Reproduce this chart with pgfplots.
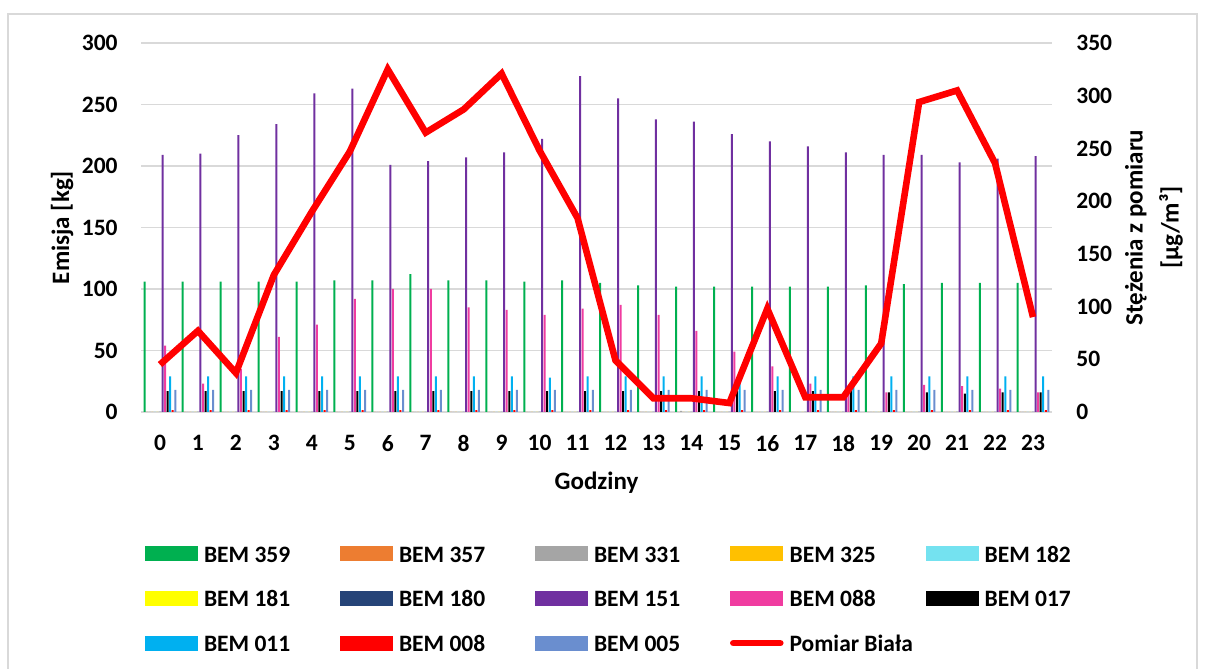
\documentclass[border=0pt]{standalone}
\usepackage{pgfplots}
\pgfplotsset{compat=1.18}
\usepackage{pgfplotstable}
\usepackage{fontspec}
\setmainfont{Carlito}

\definecolor{gridgray}{RGB}{217,217,217}
\definecolor{c359}{RGB}{0,176,80}
\definecolor{c357}{RGB}{237,125,49}
\definecolor{c331}{RGB}{165,165,165}
\definecolor{c325}{RGB}{255,192,0}
\definecolor{c182}{RGB}{116,226,240}
\definecolor{c181}{RGB}{255,255,0}
\definecolor{c180}{RGB}{38,68,120}
\definecolor{c151}{RGB}{112,48,160}
\definecolor{c088}{RGB}{240,60,160}
\definecolor{c017}{RGB}{0,0,0}
\definecolor{c011}{RGB}{0,176,240}
\definecolor{c008}{RGB}{255,0,0}
\definecolor{c005}{RGB}{106,142,207}

\pgfplotstableread{
h  b359 b357 b331 b325 b182 b181 b180 b151 b088 b017 b011 b008 b005 pm
0  106  0    0    0    0    0    0    209  54   17   29   1.5  18   45
1  106  0    0    0    0    0    0    210  23   17   29   1.5  18   77
2  106  0    0    0    0    0    0    225  35   17   29   1.5  18   37
3  106  0    0    0    0    0    0    234  61   17   29   1.5  18   130
4  106  0    0    0    0    0    0    259  71   17   29   1.5  18   190
5  107  0    0    0    0    0    0    263  92   17   29   1.5  18   247
6  107  0    0    0    0    0    0    201  100  17   29   1.5  18   325
7  112  0    0    0    0    0    0    204  100  17   29   1.5  18   265
8  107  0    0    0    0    0    0    207  85   17   29   1.5  18   287
9  107  0    0    0    0    0    0    211  83   17   29   1.5  18   321
10 106  0    0    0    0    0    0    222  79   17   28   1.5  18   248
11 107  0    0    0    0    0    0    273  84   17   29   1.5  18   184
12 105  0    0    0    0    0    0    255  87   17   29   1.5  18   49
13 103  0    0    0    0    0    0    238  79   17   29   1.5  18   13
14 102  0    1    0    0    0    0    236  66   17   29   1.5  18   13
15 102  0    0    0    0    0    0    226  49   17   29   1.5  18   8.5
16 102  0    0    0    0    0    0    220  37   17   29   1.5  18   98
17 102  0    0    0    0    0    0    216  23   17   29   1.5  18   14
18 102  0    0    0    0    0    0    211  18   17   29   1.5  18   14
19 103  0    0    0    0    0    0    209  16   16   29   1.5  18   65
20 104  0    0    0    0    0    0    209  22   16   29   1.5  18   294
21 105  0    0    0    0    0    0    203  21   15   29   1.5  18   305
22 105  0    0    0    0    0    0    206  19   16   29   1.5  18   236
23 105  0    0    0    0    0    0    208  16   16   29   1.5  18   90
}\data

\newcommand{\lt}[1]{\makebox[68pt][l]{\rule[-4pt]{0pt}{12pt}#1}}

\pgfplotsset{
  barlegend/.style={legend image code/.code={\fill[##1] (0pt,-2.7pt) rectangle (26.5pt,4.8pt);}},
  linelegend/.style={legend image code/.code={\draw[##1, line cap=round] (1.5pt,1pt) -- (25pt,1pt);}},
}

\begin{document}
\begin{tikzpicture}
\useasboundingbox (0,0) rectangle (602.5pt,334.5pt);
\draw[gridgray, line width=0.8pt] (4pt,-3pt) rectangle (598.5pt,327.5pt);

\begin{axis}[
  scale only axis, width=455.5pt, height=184.5pt,
  at={(70.5pt,128.5pt)}, anchor=south west,
  xmin=-0.5, xmax=23.5, ymin=0, ymax=300,
  enlargelimits=false,
  ybar=0.275pt, bar width=1pt,
  xtick={0,...,23}, ytick={0,50,...,300},
  major tick length=0pt,
  axis line style={draw=none},
  ymajorgrids, grid style={draw=gridgray, line width=0.8pt},
  /pgf/number format/assume math mode=true,
  tick label style={font=\fontsize{11.75}{14}\selectfont\bfseries, inner sep=0pt},
  yticklabel shift=11.5pt,
  xticklabel shift=11.5pt,
  xlabel={Godziny},
  ylabel={Emisja [kg]},
  label style={font=\fontsize{12.5}{15}\selectfont\bfseries},
  xlabel style={at={(axis description cs:0.5,-0.1924)}, anchor=center},
  ylabel style={at={(axis description cs:-0.0867,0.5)}, anchor=center},
  legend style={at={(axis description cs:0.0044,-0.363)}, anchor=north west,
    draw=none, fill=none, inner sep=0pt, outer sep=0pt,
    font=\fontsize{11.75}{14}\selectfont\bfseries,
    legend columns=5, row sep=12.75pt,
    nodes={inner sep=0pt},
    /tikz/every odd column/.append style={column sep=3pt},
    /tikz/every even column/.append style={column sep=0pt}},
  legend cell align=left,
]
\addplot[fill=c359, draw=none, barlegend] table[x=h,y=b359] {\data}; \addlegendentry{\lt{BEM 359}}
\addplot[fill=c357, draw=none, barlegend] table[x=h,y=b357] {\data}; \addlegendentry{\lt{BEM 357}}
\addplot[fill=c331, draw=none, barlegend] table[x=h,y=b331] {\data}; \addlegendentry{\lt{BEM 331}}
\addplot[fill=c325, draw=none, barlegend] table[x=h,y=b325] {\data}; \addlegendentry{\lt{BEM 325}}
\addplot[fill=c182, draw=none, barlegend] table[x=h,y=b182] {\data}; \addlegendentry{\lt{BEM 182}}
\addplot[fill=c181, draw=none, barlegend] table[x=h,y=b181] {\data}; \addlegendentry{\lt{BEM 181}}
\addplot[fill=c180, draw=none, barlegend] table[x=h,y=b180] {\data}; \addlegendentry{\lt{BEM 180}}
\addplot[fill=c151, draw=none, barlegend] table[x=h,y=b151] {\data}; \addlegendentry{\lt{BEM 151}}
\addplot[fill=c088, draw=none, barlegend] table[x=h,y=b088] {\data}; \addlegendentry{\lt{BEM 088}}
\addplot[fill=c017, draw=none, barlegend] table[x=h,y=b017] {\data}; \addlegendentry{\lt{BEM 017}}
\addplot[fill=c011, draw=none, barlegend] table[x=h,y=b011] {\data}; \addlegendentry{\lt{BEM 011}}
\addplot[fill=c008, draw=none, barlegend] table[x=h,y=b008] {\data}; \addlegendentry{\lt{BEM 008}}
\addplot[fill=c005, draw=none, barlegend] table[x=h,y=b005] {\data}; \addlegendentry{\lt{BEM 005}}
\addlegendimage{linelegend, draw=red, line width=3.3pt}
\addlegendentry{\lt{Pomiar Biała}}
\end{axis}

\begin{axis}[
  scale only axis, width=455.5pt, height=184.5pt,
  at={(70.5pt,128.5pt)}, anchor=south west,
  xmin=-0.5, xmax=23.5, ymin=0, ymax=350,
  enlargelimits=false,
  axis x line=none,
  axis y line*=right,
  axis line style={draw=none},
  ytick={0,50,...,350},
  major tick length=0pt,
  /pgf/number format/assume math mode=true,
  tick label style={font=\fontsize{11.75}{14}\selectfont\bfseries, inner sep=0pt},
  yticklabel shift=12pt,
  ylabel={Stężenia z pomiaru\\{[}µg/m³{]}},
  every axis y label/.style={at={(axis description cs:1.112,0.5)}, rotate=90, anchor=center,
    align=center, font=\fontsize{12.5}{18}\selectfont\bfseries},
]
\addplot[draw=red, line width=3.3pt, mark=none] table[x=h,y=pm] {\data};
\end{axis}
\end{tikzpicture}
\end{document}
